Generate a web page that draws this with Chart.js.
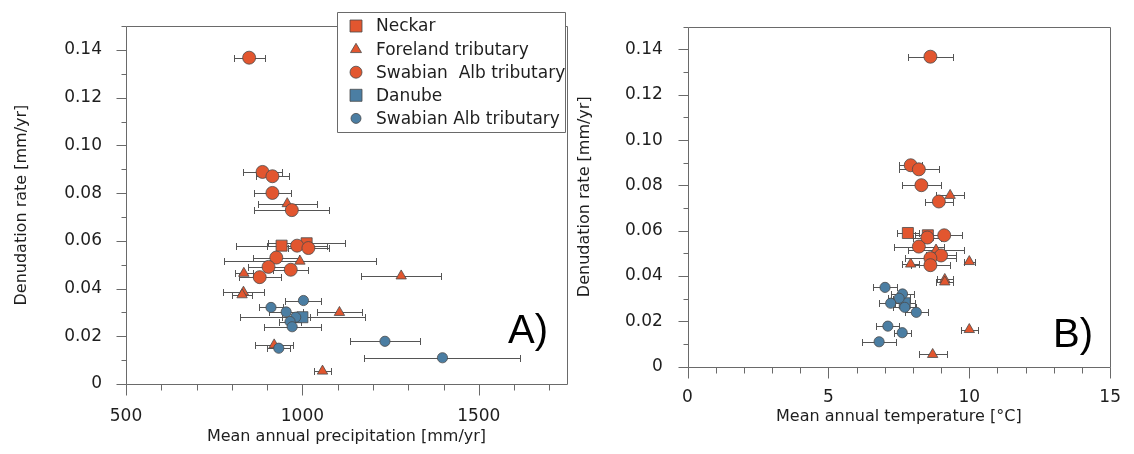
<!DOCTYPE html>
<html>
<head>
<meta charset="utf-8">
<script src="https://cdn.jsdelivr.net/npm/chart.js@4/dist/chart.umd.min.js"></script>
<style>
  html, body { margin: 0; padding: 0; background: #fff; }
  #wrap { position: relative; width: 1134px; height: 454px; overflow: hidden; }
  canvas { position: absolute; top: 0; }
</style>
</head>
<body>
<div id="wrap">
  <canvas id="cA" width="580" height="454" style="left:0px"></canvas>
  <canvas id="cB" width="574" height="454" style="left:560px"></canvas>
</div>
<script>
// ---------------- DATA ----------------
const legendLabels = ['Neckar', 'Foreland tributary', 'Swabian  Alb tributary', 'Danube', 'Swabian Alb tributary'];

// Neckar (red squares)
const neckarRate      = [0.0590, 0.0580];
const neckarPrecip    = [1012, 941];
const neckarPrecipErr = [110, 130];
const neckarTemp      = [7.82, 8.53];
const neckarTempErr   = [0.40, 0.45];

// Foreland tributary (red triangles)
const forelandRate      = [0.0756, 0.0515, 0.0464, 0.0453, 0.0385, 0.0374, 0.0300, 0.0164, 0.0054];
const forelandPrecip    = [957, 993, 834, 1280, 833, 829, 1105, 920, 1057];
const forelandPrecipErr = [83, 216, 25, 113, 57, 28, 63, 54, 24];
const forelandTemp      = [9.32, 8.82, 10.0, 7.92, 9.13, 9.13, 7.60, 10.0, 8.70];
const forelandTempErr   = [0.50, 1.00, 0.20, 0.30, 0.29, 0.30, 0.30, 0.30, 0.50];

// Swabian Alb tributary of the Neckar (red circles)
const albNeckarRate      = [0.1368, 0.0889, 0.0871, 0.0801, 0.0729, 0.0580, 0.0570, 0.0530, 0.0491, 0.0479, 0.0448];
const albNeckarPrecip    = [849, 887, 915, 915, 970, 985, 1017, 926, 904, 967, 879];
const albNeckarPrecipErr = [44, 54, 46, 53, 106, 84, 57, 65, 57, 50, 59];
const albNeckarTemp      = [8.62, 7.92, 8.21, 8.30, 8.92, 9.11, 8.51, 8.21, 9.00, 8.62, 8.62];
const albNeckarTempErr   = [0.79, 0.41, 0.70, 0.70, 0.50, 0.63, 0.50, 0.89, 0.52, 0.90, 0.70];

// Danube (blue square)
const danubeRate      = [0.0280];
const danubePrecip    = [1000];
const danubePrecipErr = [178];
const danubeTemp      = [7.71];
const danubeTempErr   = [0.35];

// Swabian Alb tributary of the Danube (blue circles)
const albDanubeRate      = [0.0350, 0.0321, 0.0302, 0.0280, 0.0262, 0.0240, 0.0179, 0.0150, 0.0110];
const albDanubePrecip    = [1003, 911, 954, 981, 965, 971, 1234, 933, 1397];
const albDanubePrecipErr = [51, 34, 48, 40, 30, 81, 98, 32, 221];
const albDanubeTemp      = [7.01, 7.63, 7.51, 7.21, 7.71, 8.12, 7.11, 7.62, 6.80];
const albDanubeTempErr   = [0.41, 0.41, 0.40, 0.40, 0.40, 0.40, 0.41, 0.30, 0.60];

const yTicksMajor = [0, 0.02, 0.04, 0.06, 0.08, 0.10, 0.12, 0.14];
const precipTickLabels = [500, 1000, 1500];
const tempTickLabels = [0, 5, 10, 15];

// ---------------- STYLE ----------------
const RED = '#E2562F';
const BLUE = '#4B7EA3';
const MARK_BORDER = '#4a4a4a';
const AXIS = '#6a6a6a';
const TXT = '#1e1e1e';
const FONT = '"DejaVu Sans", sans-serif';

function pts(xs, ys) { return ys.map((y, i) => ({ x: xs[i], y: y })); }

function makeDatasets(useTemp) {
  const series = [
    { rate: albDanubeRate, x: useTemp ? albDanubeTemp : albDanubePrecip, e: useTemp ? albDanubeTempErr : albDanubePrecipErr, style: 'circle', r: 5.1, c: BLUE },
    { rate: danubeRate, x: useTemp ? danubeTemp : danubePrecip, e: useTemp ? danubeTempErr : danubePrecipErr, style: 'rect', r: 7.8, c: BLUE },
    { rate: albNeckarRate, x: useTemp ? albNeckarTemp : albNeckarPrecip, e: useTemp ? albNeckarTempErr : albNeckarPrecipErr, style: 'circle', r: 6.5, c: RED },
    { rate: forelandRate, x: useTemp ? forelandTemp : forelandPrecip, e: useTemp ? forelandTempErr : forelandPrecipErr, style: 'triangle', r: 6, c: RED },
    { rate: neckarRate, x: useTemp ? neckarTemp : neckarPrecip, e: useTemp ? neckarTempErr : neckarPrecipErr, style: 'rect', r: 7.8, c: RED }
  ];
  return series.map(s => ({
    data: pts(s.x, s.rate),
    xErr: s.e,
    pointStyle: s.style,
    pointRadius: s.r,
    pointBackgroundColor: s.c,
    pointBorderColor: MARK_BORDER,
    pointBorderWidth: 0.8,
    showLine: false
  }));
}

const panelPlugin = {
  id: 'panel',
  beforeDatasetsDraw(chart) {
    const ctx = chart.ctx, xs = chart.scales.x, ys = chart.scales.y;
    ctx.save();
    ctx.strokeStyle = '#555';
    ctx.lineWidth = 1;
    chart.data.datasets.forEach(ds => {
      ds.data.forEach((p, i) => {
        const e = ds.xErr[i];
        const x1 = xs.getPixelForValue(p.x - e), x2 = xs.getPixelForValue(p.x + e);
        const y = Math.round(ys.getPixelForValue(p.y)) + 0.5;
        const a = Math.round(x1) + 0.5, b = Math.round(x2) + 0.5;
        ctx.beginPath();
        ctx.moveTo(a, y); ctx.lineTo(b, y);
        ctx.moveTo(a, y - 3.5); ctx.lineTo(a, y + 3.5);
        ctx.moveTo(b, y - 3.5); ctx.lineTo(b, y + 3.5);
        ctx.stroke();
      });
    });
    ctx.restore();
  },
  afterDraw(chart, args, o) {
    const ctx = chart.ctx, xs = chart.scales.x, ys = chart.scales.y, ca = chart.chartArea;
    ctx.save();
    ctx.strokeStyle = AXIS;
    ctx.lineWidth = 1;
    const L = Math.round(ca.left) + 0.5, R = Math.round(ca.right) + 0.5;
    const T = Math.round(ca.top) + 0.5, B = Math.round(ca.bottom) + 0.5;
    ctx.beginPath();
    ctx.rect(L, T, R - L, B - T);
    // y ticks (major every 0.02, minor every 0.01)
    for (let i = 0; i <= 15; i++) {
      const py = Math.round(ys.getPixelForValue(i / 100)) + 0.5;
      const len = (i % 2 === 0) ? 10 : 5;
      ctx.moveTo(L - len, py); ctx.lineTo(L, py);
    }
    // x ticks
    for (let v = o.xMin; v <= o.xMaxTick + 1e-9; v += o.xMinorStep) {
      const px = Math.round(xs.getPixelForValue(v)) + 0.5;
      const major = Math.abs((v - o.xMin) % o.xMajorStep) < 1e-6;
      const len = major ? 11 : 6;
      ctx.moveTo(px, B); ctx.lineTo(px, B + len);
    }
    ctx.stroke();

    // panel label
    ctx.fillStyle = '#000';
    ctx.font = '40px "Liberation Sans", Arial, sans-serif';
    ctx.textBaseline = 'alphabetic';
    ctx.textAlign = 'left';
    ctx.fillText(o.label, o.labelX, o.labelY);

    // legend
    if (o.legend) {
      ctx.strokeStyle = '#6a6a6a';
      ctx.lineWidth = 1;
      ctx.fillStyle = '#fff';
      ctx.beginPath();
      ctx.rect(337.5, 12.5, 228, 120);
      ctx.fill();
      ctx.stroke();
      const rows = [
        { s: 'rect', c: RED, r: 6 },
        { s: 'triangle', c: RED, r: 5.8 },
        { s: 'circle', c: RED, r: 6 },
        { s: 'rect', c: BLUE, r: 6 },
        { s: 'circle', c: BLUE, r: 5 }
      ];
      ctx.font = '17px ' + FONT;
      ctx.textBaseline = 'middle';
      rows.forEach((row, i) => {
        const cy = 26 + i * 23.1, cx = 356;
        ctx.fillStyle = row.c;
        ctx.strokeStyle = MARK_BORDER;
        ctx.lineWidth = 0.8;
        ctx.beginPath();
        if (row.s === 'rect') {
          ctx.rect(cx - row.r, cy - row.r, 2 * row.r, 2 * row.r);
        } else if (row.s === 'circle') {
          ctx.arc(cx, cy, row.r, 0, Math.PI * 2);
        } else {
          ctx.moveTo(cx, cy - row.r);
          ctx.lineTo(cx + row.r * 0.95, cy + row.r * 0.6);
          ctx.lineTo(cx - row.r * 0.95, cy + row.r * 0.6);
          ctx.closePath();
        }
        ctx.fill();
        ctx.stroke();
        ctx.fillStyle = TXT;
        ctx.fillText(legendLabels[i], 376, cy + 1);
      });
    }
    ctx.restore();
  }
};

function makeChart(id, cfg) {
  return new Chart(document.getElementById(id), {
    type: 'scatter',
    data: { datasets: makeDatasets(cfg.useTemp) },
    plugins: [panelPlugin],
    options: {
      responsive: false,
      animation: false,
      devicePixelRatio: 1,
      layout: { padding: cfg.padding },
      plugins: {
        legend: { display: false },
        tooltip: { enabled: false },
        panel: cfg.panel
      },
      scales: {
        x: {
          type: 'linear',
          min: cfg.xMin, max: cfg.xMax,
          afterFit: s => { s.height = cfg.xH; },
          afterBuildTicks: s => { s.ticks = cfg.xLabels.map(v => ({ value: v })); },
          grid: { display: false },
          border: { display: false },
          ticks: {
            color: TXT, font: { family: FONT, size: 17 }, padding: cfg.xTickPad, maxRotation: 0, autoSkip: false,
            callback: v => String(v)
          },
          title: { display: true, text: cfg.xTitle, color: TXT, font: { family: FONT, size: 16 }, padding: { top: 0, bottom: cfg.xTitlePad } }
        },
        y: {
          type: 'linear',
          min: 0, max: 0.15,
          afterFit: s => { s.width = cfg.yW; },
          afterBuildTicks: s => { s.ticks = yTicksMajor.map(v => ({ value: v })); },
          grid: { display: false },
          border: { display: false },
          ticks: {
            color: TXT, font: { family: FONT, size: 17 }, padding: cfg.yTickPad, autoSkip: false,
            callback: v => (Math.abs(v) < 1e-9 ? '0' : v.toFixed(2))
          },
          title: { display: true, text: 'Denudation rate [mm/yr]', color: TXT, font: { family: FONT, size: 16 }, padding: { top: cfg.yTitlePad, bottom: 0 } }
        }
      }
    }
  });
}

makeChart('cA', {
  useTemp: false,
  padding: { left: 0, top: 10, right: 13, bottom: 0 },
  xMin: 500, xMax: 1750, xLabels: precipTickLabels,
  xH: 70, yW: 126,
  xTickPad: 14.5, yTickPad: 16,
  xTitle: 'Mean annual precipitation [mm/yr]', xTitlePad: 7.4, yTitlePad: 12.3,
  panel: { label: 'A)', labelX: 508, labelY: 343, legend: true, xMin: 500, xMaxTick: 1700, xMinorStep: 100, xMajorStep: 500 }
});

makeChart('cB', {
  useTemp: true,
  padding: { left: 0, top: 8.3, right: 16.5, bottom: 0 },
  xMin: 0, xMax: 15, xLabels: tempTickLabels,
  xH: 87.3, yW: 127.5,
  xTickPad: 13, yTickPad: 16.6,
  xTitle: 'Mean annual temperature [°C]', xTitlePad: 27.4, yTitlePad: 15.4,
  panel: { label: 'B)', labelX: 493, labelY: 347, legend: false, xMin: 0, xMaxTick: 15, xMinorStep: 1, xMajorStep: 5 }
});
</script>
</body>
</html>
